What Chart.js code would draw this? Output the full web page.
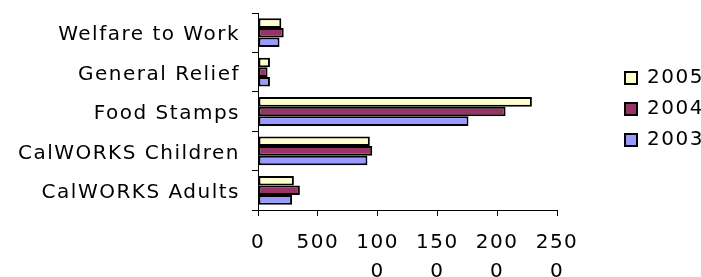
<!DOCTYPE html>
<html>
<head>
<meta charset="utf-8">
<script src="https://cdn.jsdelivr.net/npm/chart.js@4/dist/chart.umd.min.js"></script>
<style>
  html, body { margin: 0; padding: 0; background: #fff; }
  #wrap { width: 701px; height: 277px; }
</style>
</head>
<body>
<div id="wrap"><canvas id="programChart" width="701" height="277"></canvas></div>
<script>
const categories = ['Welfare to Work', 'General Relief', 'Food Stamps', 'CalWORKS Children', 'CalWORKS Adults'];
const values2005 = [195, 100, 2290, 935, 300];
const values2004 = [215, 80, 2070, 955, 350];
const values2003 = [180, 100, 1760, 915, 285];
const xTickLabels = ['0', '500', ['100', '0'], ['150', '0'], ['200', '0'], ['250', '0']];

Chart.defaults.font.family = '"DejaVu Sans", Verdana, sans-serif';
Chart.defaults.font.size = 20;
Chart.defaults.color = '#000';

// Excel-ish look: slightly spaced text, legend sitting away from the plot
const excelLook = {
  id: 'excelLook',
  beforeUpdate(chart) { chart.ctx.letterSpacing = '1.5px'; },
  beforeDraw(chart) { chart.ctx.letterSpacing = '1.5px'; },
  afterLayout(chart) {
    const lg = chart.legend;
    lg.left += 57; lg.right += 57;
    lg.top += 44; lg.bottom += 44;
  }
};

function series(label, data, color) {
  return {
    label, data,
    backgroundColor: color,
    borderColor: '#000',
    borderWidth: 2,
    borderSkipped: false,
    categoryPercentage: 0.73,
    barPercentage: 1
  };
}

new Chart(document.getElementById('programChart'), {
  type: 'bar',
  data: {
    labels: categories,
    datasets: [
      series('2005', values2005, '#FFFFCC'),
      series('2004', values2004, '#993366'),
      series('2003', values2003, '#9999FF')
    ]
  },
  plugins: [excelLook],
  options: {
    indexAxis: 'y',
    responsive: false,
    animation: false,
    layout: { padding: { top: 13, right: 57, bottom: 0, left: 0 } },
    plugins: {
      tooltip: { enabled: false },
      legend: {
        position: 'right',
        align: 'start',
        maxWidth: 87,
        labels: { boxWidth: 12, boxHeight: 12, padding: 11, color: '#000' }
      }
    },
    scales: {
      x: {
        min: 0, max: 2500,
        ticks: {
          stepSize: 500,
          padding: 12,
          font: { lineHeight: 1.45 },
          maxRotation: 0,
          callback: (v, i) => xTickLabels[i]
        },
        grid: { drawOnChartArea: false, tickLength: 6, color: '#000' },
        border: { color: '#000' },
        afterFit: s => { s.height = 67; }
      },
      y: {
        ticks: { padding: 12, labelOffset: 2.5 },
        grid: { drawOnChartArea: false, tickLength: 6, color: '#000' },
        border: { color: '#000' },
        afterFit: s => { s.width = 258; s.paddingTop = 0; s.paddingBottom = 0; }
      }
    }
  }
});
</script>
</body>
</html>
